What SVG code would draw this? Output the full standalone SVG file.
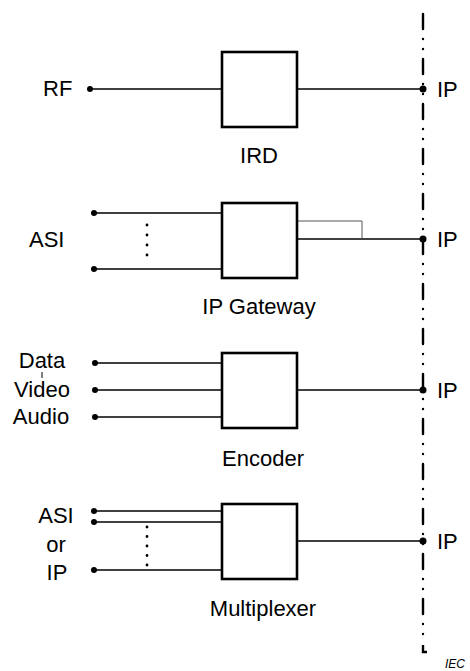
<svg xmlns="http://www.w3.org/2000/svg" width="470" height="671" viewBox="0 0 470 671">
<style>
text{font-family:"Liberation Sans",Arial,sans-serif;font-size:22px;fill:#000}
.box{fill:#fff;stroke:#000;stroke-width:2.6}
.w{stroke:#000;stroke-width:1.4;fill:none}
.thin{stroke:#555;stroke-width:1;fill:none}
.dot{fill:#000}
.vd{stroke:#000;stroke-width:2.8;stroke-linecap:round}
.mid{text-anchor:middle}
</style>
<rect width="470" height="671" fill="#fff"/>
<g id="connectors">
  <line class="w" x1="90" y1="89" x2="222" y2="89"/>
  <line class="w" x1="297" y1="89" x2="423" y2="89"/>
  <line class="w" x1="94" y1="213" x2="222" y2="213"/>
  <line class="w" x1="94" y1="269" x2="222" y2="269"/>
  <line class="w" x1="297" y1="239" x2="423" y2="239"/>
  <polyline class="thin" points="297,221 362,221 362,239"/>
  <line class="w" x1="95" y1="363" x2="222" y2="363"/>
  <line class="w" x1="95" y1="390" x2="222" y2="390"/>
  <line class="w" x1="95" y1="417" x2="222" y2="417"/>
  <line class="w" x1="297" y1="390" x2="423" y2="390"/>
  <line class="w" x1="94" y1="511" x2="222" y2="511"/>
  <line class="w" x1="94" y1="522" x2="222" y2="522"/>
  <line class="w" x1="94" y1="570" x2="222" y2="570"/>
  <line class="w" x1="297" y1="541" x2="423" y2="541"/>
  <circle class="dot" cx="90" cy="89" r="3"/>
  <circle class="dot" cx="94" cy="213" r="3"/>
  <circle class="dot" cx="94" cy="269" r="3"/>
  <circle class="dot" cx="95" cy="363" r="3"/>
  <circle class="dot" cx="95" cy="390" r="3"/>
  <circle class="dot" cx="95" cy="417" r="3"/>
  <circle class="dot" cx="94" cy="511" r="3"/>
  <circle class="dot" cx="94" cy="522" r="3"/>
  <circle class="dot" cx="94" cy="570" r="3"/>
  <circle class="dot" cx="423" cy="89" r="3.5"/>
  <circle class="dot" cx="423" cy="239" r="3.5"/>
  <circle class="dot" cx="423" cy="390" r="3.5"/>
  <circle class="dot" cx="423" cy="541" r="3.5"/>
  <line class="vd" x1="147" y1="225" x2="147" y2="256" stroke-dasharray="0 10"/>
  <line class="vd" x1="147" y1="527" x2="147" y2="566" stroke-dasharray="0 9.5"/>
  <line x1="42" y1="372" x2="42" y2="378" stroke="#000" stroke-width="1"/>
</g>
<g id="boundary">
  <line x1="423" y1="14" x2="423" y2="643" stroke="#000" stroke-width="2.4" stroke-linecap="round" stroke-dasharray="15 10 0 10 0 10"/>
  <path d="M423,645 V652 H427" fill="none" stroke="#000" stroke-width="2.4"/>
</g>
<g id="ird">
  <rect class="box" x="222" y="52" width="75" height="75"/>
  <text class="mid" x="259" y="163">IRD</text>
  <text x="43" y="96">RF</text>
  <text x="437" y="97">IP</text>
</g>
<g id="gateway">
  <rect class="box" x="222" y="203" width="75" height="75"/>
  <text class="mid" x="259" y="314">IP Gateway</text>
  <text x="29" y="247">ASI</text>
  <text x="437" y="247">IP</text>
</g>
<g id="encoder">
  <rect class="box" x="222" y="353" width="75" height="75"/>
  <text class="mid" x="263" y="466">Encoder</text>
  <text class="mid" x="42" y="368">Data</text>
  <text class="mid" x="42" y="397">Video</text>
  <text class="mid" x="41" y="424">Audio</text>
  <text x="437" y="398">IP</text>
</g>
<g id="multiplexer">
  <rect class="box" x="222" y="504" width="75" height="75"/>
  <text class="mid" x="263" y="616">Multiplexer</text>
  <text class="mid" x="56" y="523">ASI</text>
  <text class="mid" x="56" y="552">or</text>
  <text class="mid" x="57" y="580">IP</text>
  <text x="437" y="549">IP</text>
</g>
<text x="445" y="668" style="font-size:12px;font-style:italic">IEC</text>
</svg>
